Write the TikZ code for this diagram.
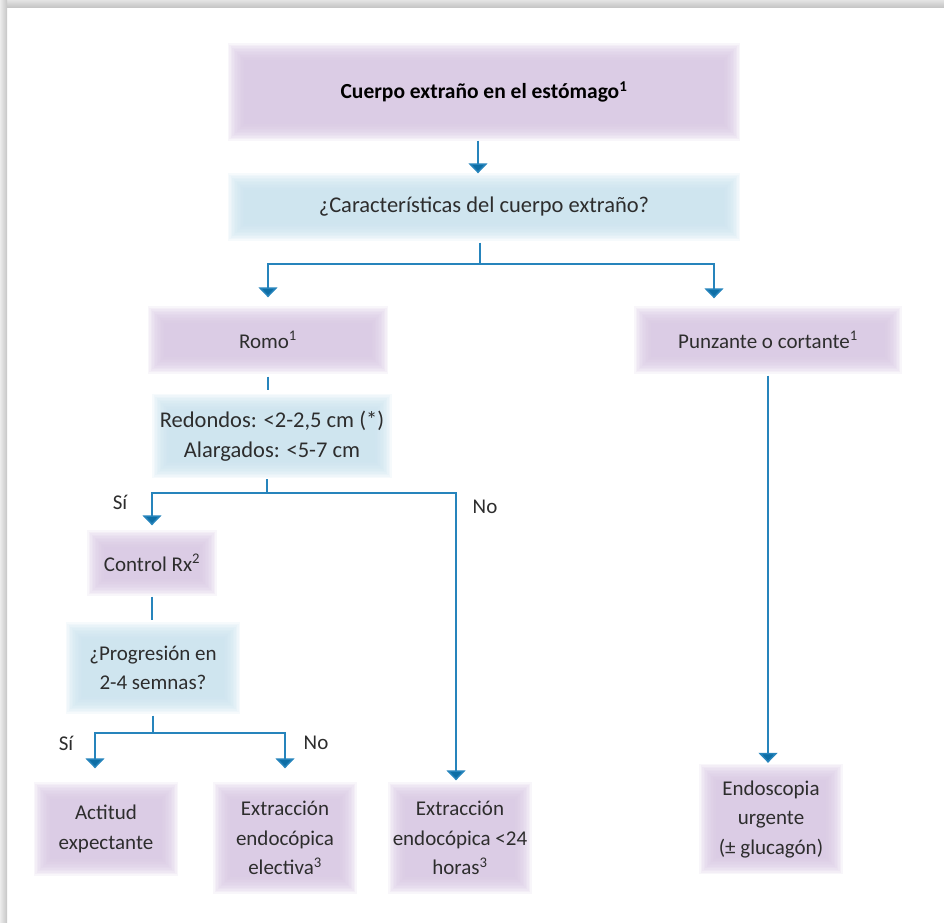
\documentclass[tikz,border=0pt]{standalone}
\usepackage{fontspec}
\setmainfont{Carlito}
\usetikzlibrary{arrows.meta,backgrounds}
\definecolor{lineblue}{RGB}{38,132,188}
\definecolor{tipblue}{RGB}{14,110,165}
\definecolor{purp}{RGB}{214,197,225}
\definecolor{lblue}{RGB}{200,225,237}
\definecolor{txt}{RGB}{45,45,45}
\tikzset{
  box/.style={align=center, inner sep=0pt, text=txt, font=\fontsize{21}{29.5}\selectfont},
  bigbox/.style={box, font=\fontsize{22.5}{29.5}\selectfont},
  lab/.style={text=txt, inner sep=0pt, font=\fontsize{21}{25}\selectfont},
  conn/.style={draw=lineblue, line width=1.5pt},
  arr/.style={conn, -{Triangle[width=19pt,length=10pt,fill=tipblue]}},
}
\newcommand\softfill[2]{%
  \foreach \i in {0,...,11}{%
    \fill[#2, fill opacity=0.16] ([xshift=\i*1.5pt, yshift=-\i*1.5pt]#1.north west) rectangle ([xshift=-\i*1.5pt, yshift=\i*1.5pt]#1.south east);
  }}
\begin{document}
\begin{tikzpicture}[x=1pt,y=-1pt]
\useasboundingbox (0,0) rectangle (944,922);
\shade[top color=gray!22, bottom color=gray!45] (0,0) rectangle (944,7);
\shade[left color=gray!15, right color=gray!45] (0,0) rectangle (7,922);

% nodes
\node[box, minimum width=512pt, minimum height=97pt, text=black, font=\fontsize{21.5}{25}\selectfont\bfseries] (top) at (484,92) {Cuerpo extraño en el estómago\textsuperscript{1}};
\node[bigbox, minimum width=512pt, minimum height=67pt] (q1) at (484,207) {¿Características del cuerpo extraño?};
\node[box, minimum width=240pt, minimum height=67pt] (romo) at (268,340) {Romo\textsuperscript{1}};
\node[box, minimum width=267pt, minimum height=67pt] (punz) at (768,340) {Punzante o cortante\textsuperscript{1}};
\node[bigbox, minimum width=239pt, minimum height=84pt] (red) at (272,436) {Redondos: <2-2,5 cm (*)\\Alargados: <5-7 cm};
\node[box, minimum width=129pt, minimum height=65pt] (ctrl) at (152,563) {Control Rx\textsuperscript{2}};
\node[box, minimum width=174pt, minimum height=91pt] (prog) at (153,668) {¿Progresión en\\2-4 semnas?};
\node[box, minimum width=144pt, minimum height=93pt] (act) at (106,829) {Actitud\\expectante};
\node[box, minimum width=143pt, minimum height=111pt] (elec) at (285,838) {Extracción\\endocópica\\electiva\textsuperscript{3}};
\node[box, minimum width=143pt, minimum height=111pt] (ext24) at (460,838) {Extracción\\endocópica <24\\horas\textsuperscript{3}};
\node[box, minimum width=143pt, minimum height=110pt] (endo) at (771,819) {Endoscopia\\urgente\\(± glucagón)};

\node[lab] (si1) at (120,502) {Sí};
\node[lab] (no1) at (485,507) {No};
\node[lab] (si2) at (66,743) {Sí};
\node[lab] (no2) at (316,743) {No};

\begin{scope}[on background layer]
\softfill{top}{purp}
\softfill{q1}{lblue}
\softfill{romo}{purp}
\softfill{punz}{purp}
\softfill{red}{lblue}
\softfill{ctrl}{purp}
\softfill{prog}{lblue}
\softfill{act}{purp}
\softfill{elec}{purp}
\softfill{ext24}{purp}
\softfill{endo}{purp}
\end{scope}

% connectors
\coordinate (j0) at (478,0);
\draw[arr] (top.south -| j0) -- (q1.north -| j0);

\coordinate (j1) at (480,264);
\draw[conn, shorten <=2pt] (q1.south -| j1) -- (j1);
\draw[arr] (j1) -| ([yshift=9pt]romo.north);
\draw[arr] (j1) -| ([xshift=-54pt, yshift=8pt]punz.north);

\draw[conn, shorten <=3pt, shorten >=4pt] (romo.south) -- (romo.south |- red.north);

\coordinate (j2) at (267,493);
\draw[conn, shorten <=1pt] (red.south -| j2) -- (j2);
\draw[arr] (j2) -| ([yshift=5pt]ctrl.north);
\draw[arr] (j2) -| ([xshift=-4pt, yshift=2pt]ext24.north);

\draw[conn, shorten <=1pt, shorten >=2pt] (ctrl.south) -- (ctrl.south |- prog.north);

\coordinate (j3) at (153,733);
\draw[conn, shorten <=2pt] (prog.south -| j3) -- (j3);
\draw[arr] (j3) -| ([xshift=-11pt, yshift=14pt]act.north);
\draw[arr] (j3) -| ([yshift=14pt]elec.north);

\draw[arr, shorten <=2pt, shorten >=1pt] (punz.south) -- (endo.north -| punz.south);
\end{tikzpicture}
\end{document}
